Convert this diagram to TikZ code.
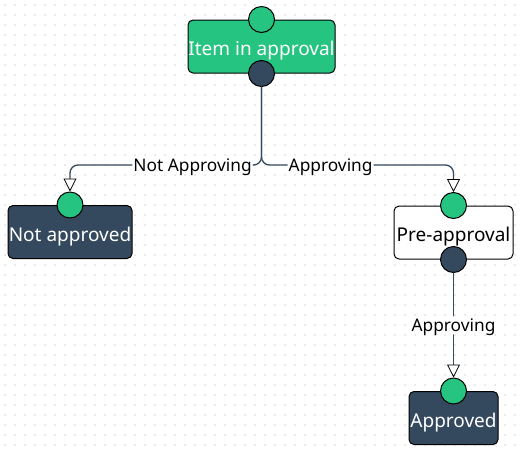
\documentclass[tikz,border=0pt]{standalone}
\usepackage{fontspec}
\setmainfont{Noto Sans}
\usetikzlibrary{arrows.meta}
\definecolor{stategreen}{RGB}{38,196,129}
\definecolor{statedark}{RGB}{52,73,94}
\definecolor{griddot}{RGB}{165,165,165}
\begin{document}
\begin{tikzpicture}[x=1pt, y=-1pt, line join=round, line cap=round,
	box/.style={draw=black, line width=1pt, rounded corners=5pt, minimum width=#1, minimum height=53pt, inner sep=0pt, text height=18pt, text depth=0pt, font=\fontsize{19}{21}\selectfont},
	port/.style={circle, draw=black, line width=1pt, minimum size=26pt, inner sep=0pt},
	conn/.style={draw=statedark, line width=1.3pt, rounded corners=8pt, -{Triangle[fill=white, color=black, length=13pt, width=13pt, line width=0.8pt]}},
	lbl/.style={fill=white, inner sep=1pt, text height=14pt, text depth=2pt, font=\fontsize{17.3}{19}\selectfont}]
	\def\xmax{521} \def\ymax{453}
	\useasboundingbox (0,0) rectangle (\xmax,\ymax);
	\fill[white] (0,0) rectangle (\xmax,\ymax);
	% dotted grid
	\foreach \i in {0,...,51}
		\foreach \j in {0,...,44}
			\fill[griddot] (5+10*\i,5+10*\j) circle (0.6pt);
	% states
	\node[box=147pt, fill=stategreen, text=white] (item) at (261.5,46.5) {Item in approval};
	\node[box=124pt, fill=statedark, text=white] (notapp) at (70,232) {Not approved};
	\node[box=119pt, fill=white] (pre) at (453.5,232.5) {Pre-approval};
	\node[box=89pt, fill=statedark, text=white] (appr) at (453.5,418) {Approved};
	% ports
	\node[port, fill=stategreen] (itemin) at (item.north) {};
	\node[port, fill=statedark] (itemout) at (item.south) {};
	\node[port, fill=stategreen] (notappin) at (notapp.north) {};
	\node[port, fill=stategreen] (prein) at (pre.north) {};
	\node[port, fill=statedark] (preout) at (pre.south) {};
	\node[port, fill=stategreen] (apprin) at (appr.north) {};
	% transitions
	\coordinate (split) at (261.5,165);
	\draw[conn] (itemout.south) -- (split) -| node[lbl, pos=0.18] {Not Approving} (notappin.north);
	\draw[conn] (itemout.south) -- (split) -| node[lbl, pos=0.18] {Approving} (prein.north);
	\draw[conn] (preout.south) -- node[lbl] {Approving} (apprin.north);
\end{tikzpicture}
\end{document}
